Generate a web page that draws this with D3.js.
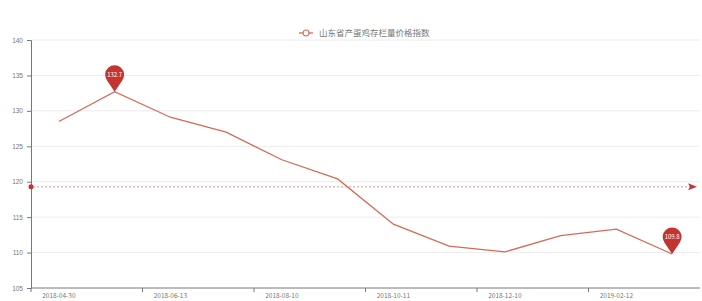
<!DOCTYPE html>
<html>
<head>
<meta charset="utf-8">
<script src="https://cdn.jsdelivr.net/npm/d3@7/dist/d3.min.js"></script>
<style>
    html, body { margin: 0; padding: 0; background: #fff; }
    svg { display: block; font-family: "Noto Sans CJK SC", "DejaVu Sans", sans-serif; }
</style>
</head>
<body>
<svg id="chart"></svg>
<script>
(function () {
    'use strict';

    var seriesName = '山东省产蛋鸡存栏量价格指数';
    var categories = ['2018-04-30', '2018-05-22', '2018-06-13', '2018-07-16', '2018-08-10', '2018-09-12',
        '2018-10-11', '2018-11-13', '2018-12-10', '2019-01-14', '2019-02-12', '2019-03-11'];
    var values = [128.5, 132.7, 129.1, 127.0, 123.1, 120.4, 114.0, 110.9, 110.1, 112.4, 113.3, 109.8];
    var yTicks = [105, 110, 115, 120, 125, 130, 135, 140];

    var width = 702;
    var height = 301;
    var left = 31;
    var right = 700;
    var top = 40;
    var bottom = 288;
    var red = '#c23531';
    var lineColor = '#d46a58';

    var svg = d3.select('#chart')
        .attr('width', width)
        .attr('height', height);

    var x = d3.scaleBand().domain(categories).range([left, right]).padding(0);
    var y = d3.scaleLinear().domain([d3.min(yTicks), d3.max(yTicks)]).range([bottom, top]);
    var bw = x.bandwidth();

    function cx(c) {
        return x(c) + bw / 2;
    }

    // grid lines
    svg.append('g')
        .selectAll('line')
        .data(yTicks.slice(1))
        .enter().append('line')
        .attr('x1', left)
        .attr('x2', right)
        .attr('y1', function (d) { return y(d); })
        .attr('y2', function (d) { return y(d); })
        .attr('stroke', '#ececec')
        .attr('stroke-width', 1);

    // y axis
    var yAxis = svg.append('g')
        .attr('transform', 'translate(' + left + ',0)')
        .call(d3.axisLeft(y).tickValues(yTicks).tickSize(4).tickPadding(4).tickFormat(d3.format('d')));
    yAxis.select('.domain').attr('stroke', '#777');
    yAxis.selectAll('.tick line').attr('stroke', '#777');
    yAxis.selectAll('text').attr('fill', '#777').style('font-size', '6.5px');

    // x axis
    var xAxis = svg.append('g')
        .attr('transform', 'translate(0,' + bottom + ')');
    xAxis.append('line')
        .attr('x1', left).attr('x2', right)
        .attr('stroke', '#777');
    var shown = categories.filter(function (d, i) { return i % 2 === 0; });
    xAxis.selectAll('.tk')
        .data(shown)
        .enter().append('line')
        .attr('class', 'tk')
        .attr('x1', function (d) { return x(d); })
        .attr('x2', function (d) { return x(d); })
        .attr('y1', 0).attr('y2', 4)
        .attr('stroke', '#777');
    xAxis.selectAll('text')
        .data(shown)
        .enter().append('text')
        .attr('x', function (d) { return cx(d); })
        .attr('y', 10)
        .attr('text-anchor', 'middle')
        .attr('fill', '#777')
        .style('font-size', '6.5px')
        .text(function (d) { return d; });

    // average line
    var avg = d3.mean(values);
    svg.append('line')
        .attr('x1', left + 2)
        .attr('x2', right - 10)
        .attr('y1', y(avg))
        .attr('y2', y(avg))
        .attr('stroke', '#d9534f')
        .attr('stroke-opacity', 0.8)
        .attr('stroke-width', 0.8)
        .attr('stroke-dasharray', '2,2');
    svg.append('circle')
        .attr('cx', left)
        .attr('cy', y(avg))
        .attr('r', 2.5)
        .attr('fill', red);
    svg.append('path')
        .attr('d', 'M' + (right - 12) + ',' + (y(avg) - 3.5) + 'L' + (right - 3) + ',' + y(avg) +
            'L' + (right - 12) + ',' + (y(avg) + 3.5) + 'L' + (right - 10) + ',' + y(avg) + 'Z')
        .attr('fill', red);

    // series line
    var line = d3.line()
        .x(function (d, i) { return cx(categories[i]); })
        .y(function (d) { return y(d); });

    svg.append('path')
        .datum(values)
        .attr('d', line)
        .attr('fill', 'none')
        .attr('stroke', lineColor)
        .attr('stroke-width', 1.3);

    // max / min pins
    var maxI = values.indexOf(d3.max(values));
    var minI = values.indexOf(d3.min(values));
    var pinR = 9.5;
    var pinC = 17;
    var pins = svg.selectAll('.pin')
        .data([maxI, minI])
        .enter().append('g')
        .attr('class', 'pin')
        .attr('transform', function (i) {
            return 'translate(' + cx(categories[i]) + ',' + y(values[i]) + ')';
        });
    pins.append('path')
        .attr('d', function () {
            var r = pinR;
            var sx = r * 0.8;
            var sy = -pinC + r * 0.6;
            return 'M0,0L' + (-sx) + ',' + sy +
                'A' + r + ',' + r + ' 0 1 1 ' + sx + ',' + sy + 'Z';
        })
        .attr('fill', red);
    pins.append('text')
        .attr('x', 0)
        .attr('y', -pinC + 2.2)
        .attr('text-anchor', 'middle')
        .attr('fill', '#fff')
        .style('font-size', '6px')
        .text(function (i) { return values[i]; });

    // legend
    var lg = svg.append('g').attr('transform', 'translate(299,33)');
    lg.append('line')
        .attr('x1', 0).attr('x2', 14)
        .attr('stroke', lineColor).attr('stroke-width', 1.3);
    lg.append('circle')
        .attr('cx', 7).attr('cy', 0).attr('r', 3)
        .attr('fill', '#fff').attr('stroke', lineColor).attr('stroke-width', 1.2);
    lg.append('text')
        .attr('x', 20).attr('y', 3)
        .attr('fill', '#777')
        .style('font-size', '8.5px')
        .text(seriesName);
})();
</script>
</body>
</html>
